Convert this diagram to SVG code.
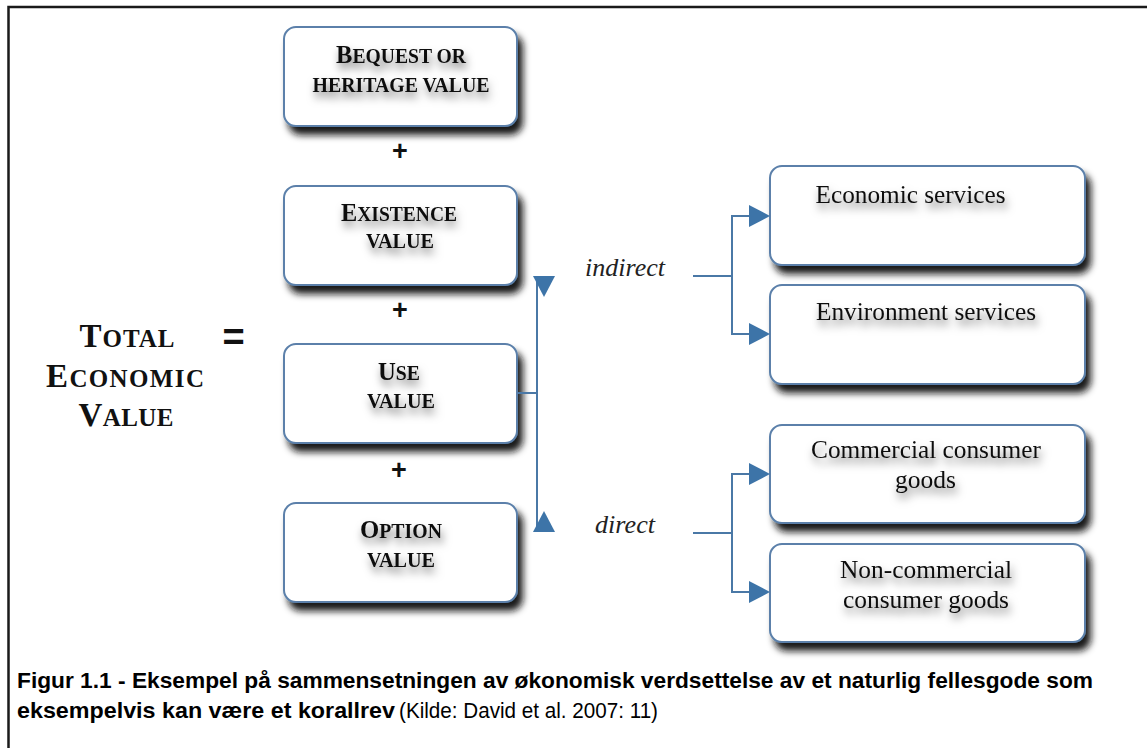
<svg xmlns="http://www.w3.org/2000/svg" xmlns:xlink="http://www.w3.org/1999/xlink" width="1147" height="748" viewBox="0 0 1147 748">
<defs>
<filter id="boxShadow" x="-10%" y="-15%" width="125%" height="150%">
<feGaussianBlur in="SourceAlpha" stdDeviation="3.5"/>
<feOffset dx="5" dy="8" result="b"/>
<feFlood flood-color="#111" flood-opacity="0.95"/>
<feComposite in2="b" operator="in"/>
<feMerge><feMergeNode/><feMergeNode in="SourceGraphic"/></feMerge>
</filter>
<filter id="txtShadow" x="-20%" y="-60%" width="140%" height="260%">
<feGaussianBlur in="SourceAlpha" stdDeviation="4.5"/>
<feOffset dx="2" dy="6" result="b"/>
<feFlood flood-color="#000" flood-opacity="0.55"/>
<feComposite in2="b" operator="in"/>
<feMerge><feMergeNode/><feMergeNode in="SourceGraphic"/></feMerge>
</filter>
<path id="tri" d="M0,-11 L21,0 L0,11 Z"/>
<style>
.box{fill:#fff;stroke:#5b80aa;stroke-width:2;filter:url(#boxShadow);}
.cap{font-family:"Liberation Serif","Times New Roman",serif;font-weight:bold;fill:#111;text-anchor:middle;filter:url(#txtShadow);}
.big{font-size:25px;}
.sm{font-size:20px;}
.tot{font-family:"Liberation Serif","Times New Roman",serif;font-weight:bold;fill:#111;text-anchor:middle;}
.tbig{font-size:33px;}
.tsm{font-size:25px;}
.lbl{font-family:"Liberation Serif","Times New Roman",serif;font-size:25px;fill:#111;text-anchor:middle;filter:url(#txtShadow);}
.it{font-family:"Liberation Serif","Times New Roman",serif;font-style:italic;font-size:25px;fill:#222;text-anchor:middle;}
.op{font-family:"Liberation Sans",Arial,sans-serif;font-weight:bold;fill:#111;text-anchor:middle;}
.conn{fill:none;stroke:#4a78a6;stroke-width:2;}
.arr{fill:#3d74a8;}
.cap2{font-family:"Liberation Sans",Arial,sans-serif;font-size:22px;fill:#000;}
</style>
</defs>
<rect x="0" y="0" width="1147" height="748" fill="#fff"/>
<g id="frame">
<path d="M8.5,748 V7 H1147" fill="none" stroke="#1a1a1a" stroke-width="2.5"/>
</g>
<g id="total">
<text class="tot" x="127" y="347" textLength="95"><tspan class="tbig">T</tspan><tspan class="tsm">OTAL</tspan></text>
<text class="tot" x="125" y="387" textLength="158"><tspan class="tbig">E</tspan><tspan class="tsm">CONOMIC</tspan></text>
<text class="tot" x="126" y="426" textLength="95"><tspan class="tbig">V</tspan><tspan class="tsm">ALUE</tspan></text>
<text class="op" x="233.5" y="350" font-size="38">=</text>
</g>
<g id="bequest">
<rect class="box" x="284" y="27" width="233" height="99" rx="12"/>
<text class="cap" x="401" y="63" textLength="130" lengthAdjust="spacingAndGlyphs"><tspan class="big">B</tspan><tspan class="sm">EQUEST OR</tspan></text>
<text class="cap sm" x="401" y="92" textLength="177" lengthAdjust="spacingAndGlyphs">HERITAGE VALUE</text>
</g>
<text class="op" x="400" y="160" font-size="27">+</text>
<g id="existence">
<rect class="box" x="284" y="186" width="233" height="99" rx="12"/>
<text class="cap" x="399" y="221" textLength="116" lengthAdjust="spacingAndGlyphs"><tspan class="big">E</tspan><tspan class="sm">XISTENCE</tspan></text>
<text class="cap sm" x="400" y="248" textLength="68" lengthAdjust="spacingAndGlyphs">VALUE</text>
</g>
<text class="op" x="400" y="319" font-size="27">+</text>
<g id="use">
<rect class="box" x="284" y="344" width="233" height="99" rx="12"/>
<text class="cap" x="399" y="380" textLength="42" lengthAdjust="spacingAndGlyphs"><tspan class="big">U</tspan><tspan class="sm">SE</tspan></text>
<text class="cap sm" x="401" y="408" textLength="68" lengthAdjust="spacingAndGlyphs">VALUE</text>
</g>
<text class="op" x="399" y="479" font-size="27">+</text>
<g id="option">
<rect class="box" x="284" y="503" width="233" height="99" rx="12"/>
<text class="cap" x="401" y="538" textLength="82" lengthAdjust="spacingAndGlyphs"><tspan class="big">O</tspan><tspan class="sm">PTION</tspan></text>
<text class="cap sm" x="401" y="567" textLength="68" lengthAdjust="spacingAndGlyphs">VALUE</text>
</g>
<g id="economic-services">
<rect class="box" x="770" y="166" width="315" height="99" rx="12"/>
<text class="lbl" x="910.5" y="203" textLength="190" lengthAdjust="spacingAndGlyphs">Economic services</text>
</g>
<g id="environment-services">
<rect class="box" x="770" y="285" width="315" height="99" rx="12"/>
<text class="lbl" x="926" y="320" textLength="220" lengthAdjust="spacingAndGlyphs">Environment services</text>
</g>
<g id="commercial">
<rect class="box" x="770" y="425" width="315" height="98" rx="12"/>
<text class="lbl" x="926" y="458" textLength="230" lengthAdjust="spacingAndGlyphs">Commercial consumer</text>
<text class="lbl" x="925.5" y="488" textLength="61" lengthAdjust="spacingAndGlyphs">goods</text>
</g>
<g id="non-commercial">
<rect class="box" x="770" y="544" width="315" height="98" rx="12"/>
<text class="lbl" x="926" y="578" textLength="172" lengthAdjust="spacingAndGlyphs">Non-commercial</text>
<text class="lbl" x="926" y="608" textLength="166" lengthAdjust="spacingAndGlyphs">consumer goods</text>
</g>
<g id="connectors">
<path class="conn" d="M518,393 H537 M537,280 V528"/>
<use xlink:href="#tri" class="arr" transform="translate(544,276) rotate(90)"/>
<use xlink:href="#tri" class="arr" transform="translate(544,532) rotate(-90)"/>
<path class="conn" d="M693,276 H732 M750,216 H732 V334 H750"/>
<use xlink:href="#tri" class="arr" transform="translate(749,216)"/>
<use xlink:href="#tri" class="arr" transform="translate(749,334)"/>
<path class="conn" d="M693,533 H732 M750,474 H732 V592 H750"/>
<use xlink:href="#tri" class="arr" transform="translate(749,474)"/>
<use xlink:href="#tri" class="arr" transform="translate(749,592)"/>
<text class="it" x="625" y="276" textLength="80" lengthAdjust="spacingAndGlyphs">indirect</text>
<text class="it" x="625" y="533" textLength="60" lengthAdjust="spacingAndGlyphs">direct</text>
</g>
<g id="caption">
<text class="cap2" x="17" y="688" font-weight="bold" textLength="1076" lengthAdjust="spacingAndGlyphs">Figur 1.1 - Eksempel på sammensetningen av økonomisk verdsettelse av et naturlig fellesgode som</text>
<text class="cap2" y="718"><tspan x="17" font-weight="bold" textLength="378" lengthAdjust="spacingAndGlyphs">eksempelvis kan være et korallrev</tspan><tspan x="399" textLength="259" lengthAdjust="spacingAndGlyphs">(Kilde: David et al. 2007: 11)</tspan></text>
</g>
</svg>
